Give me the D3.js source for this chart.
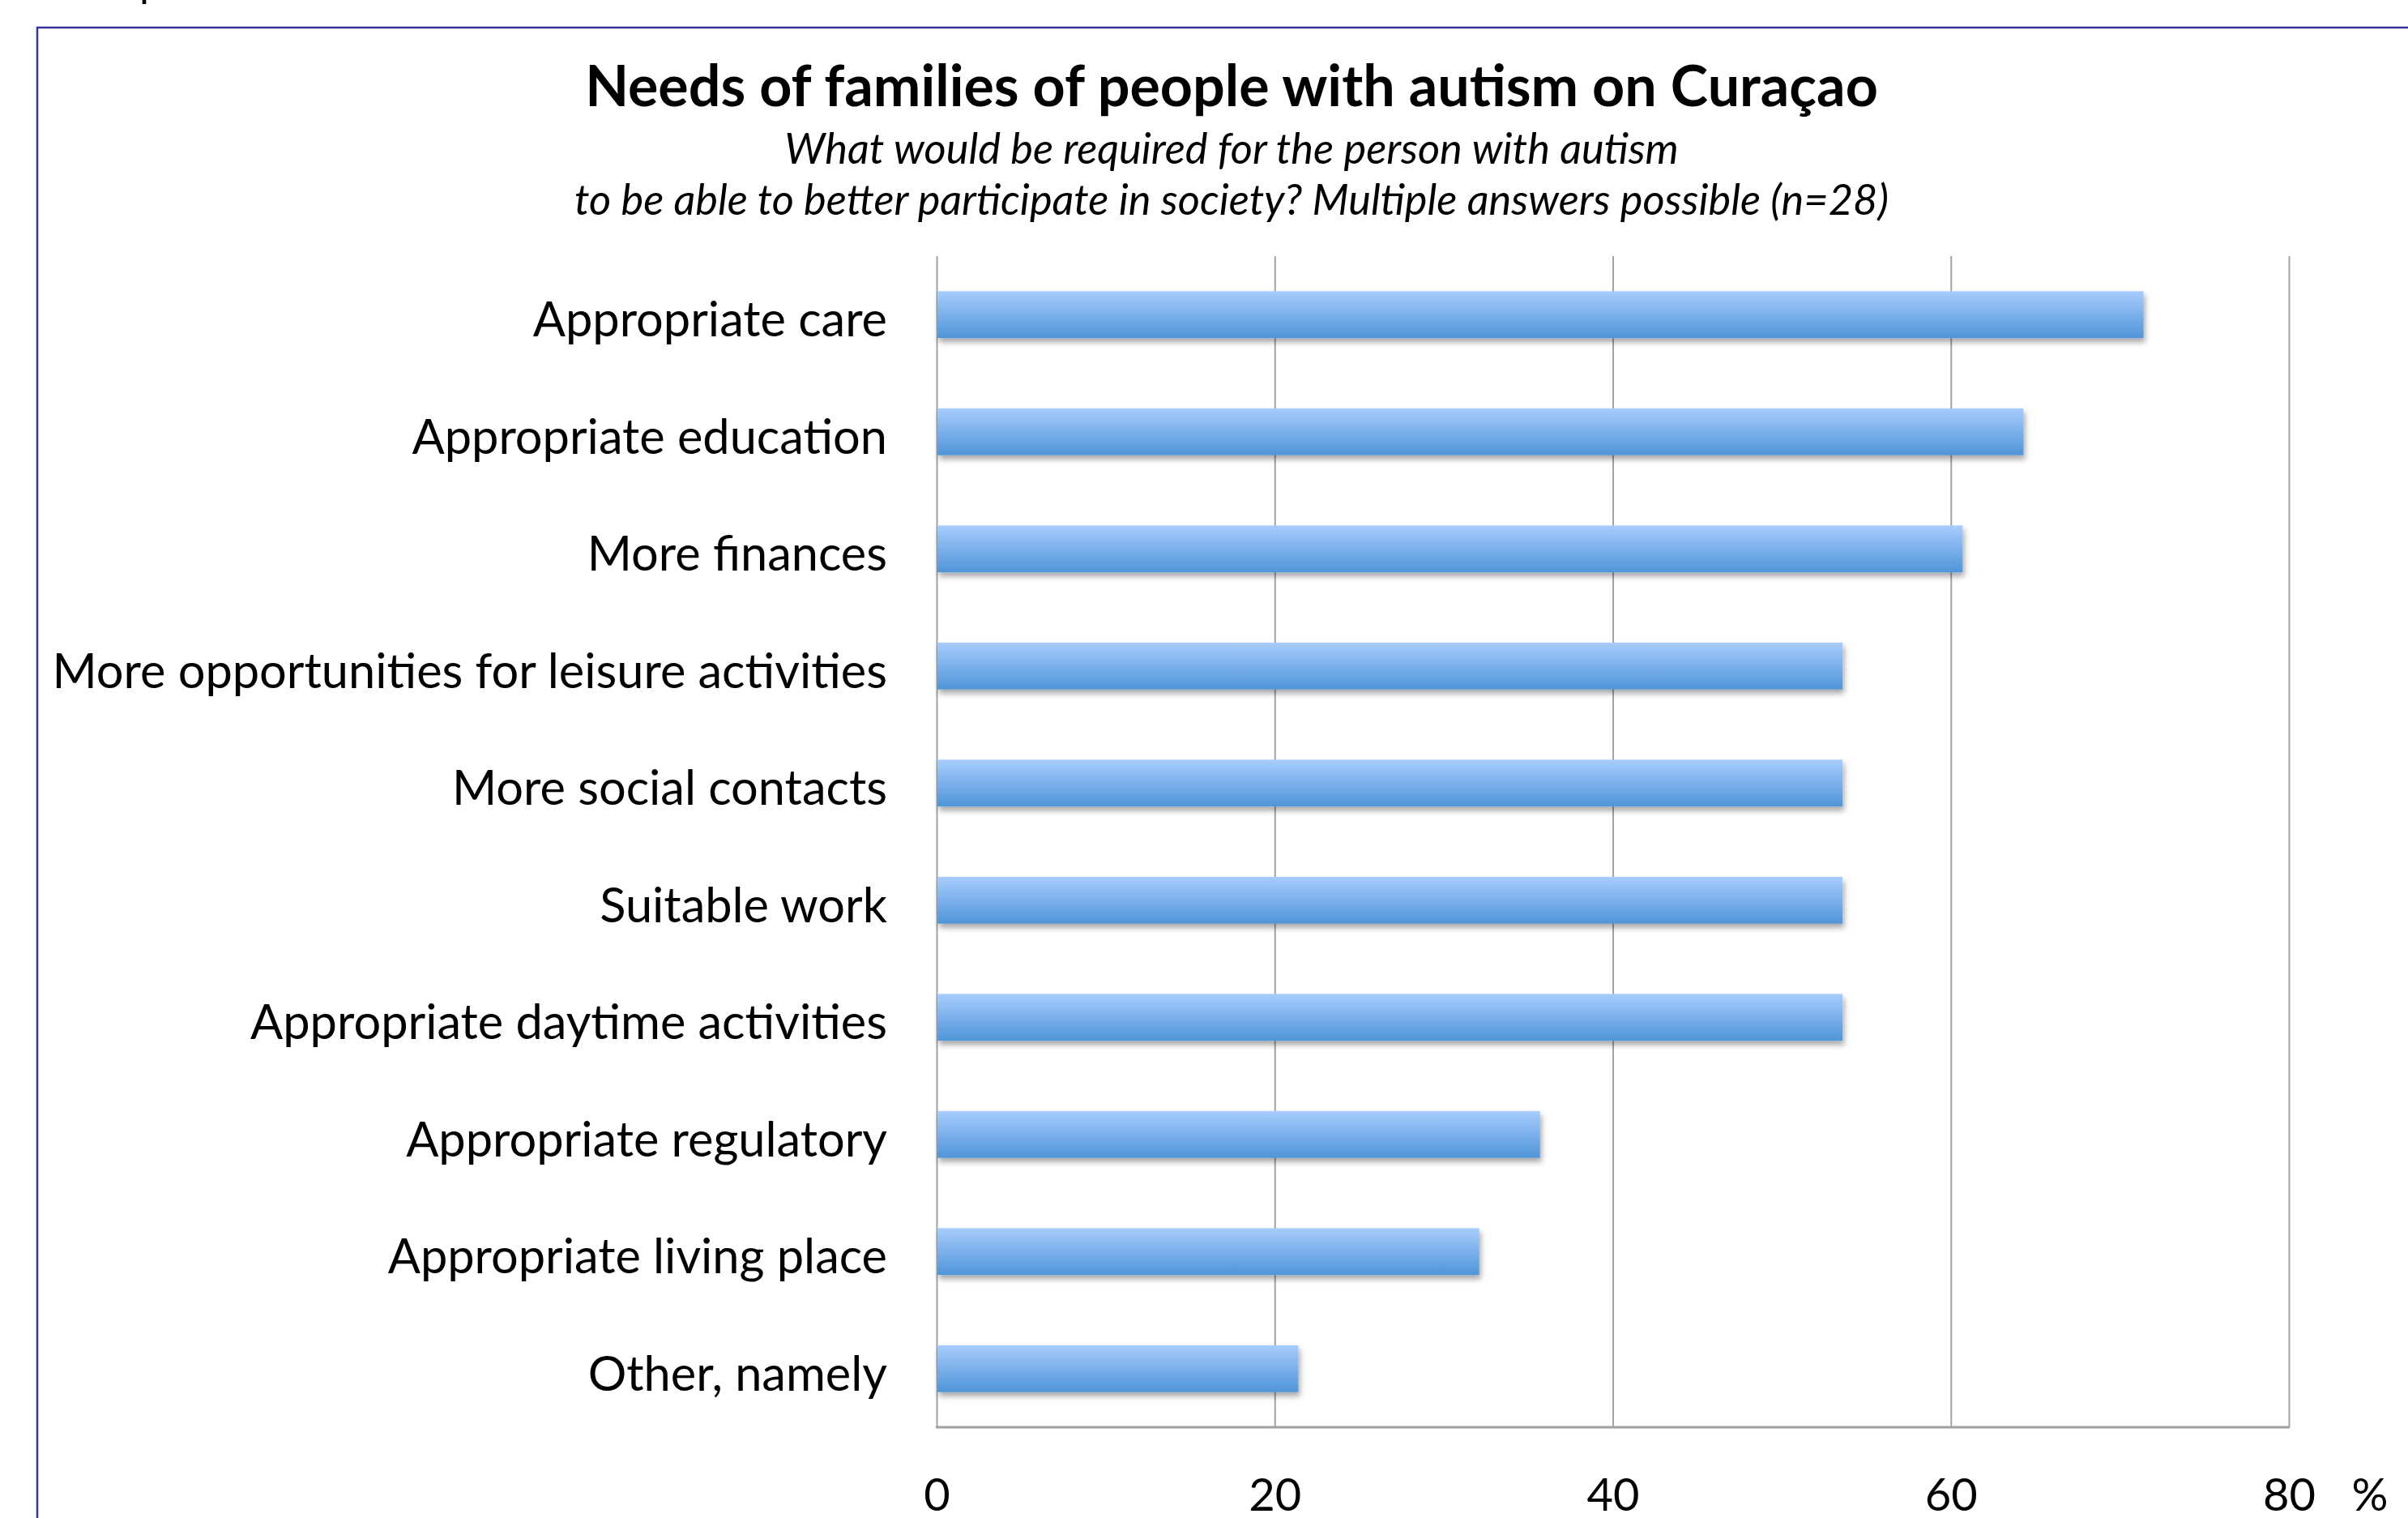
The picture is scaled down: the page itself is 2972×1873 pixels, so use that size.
<!DOCTYPE html>
<html>
<head>
<meta charset="utf-8">
<script src="https://cdn.jsdelivr.net/npm/d3@7"></script>
<style>
  body { margin: 0; background: #fff; }
  svg { display: block; font-family: Lato, "Open Sans", sans-serif; }
</style>
</head>
<body>
<svg id="chart"></svg>
<script>
// categories, top to bottom
var categories = [
  "Appropriate care",
  "Appropriate education",
  "More finances",
  "More opportunities for leisure activities",
  "More social contacts",
  "Suitable work",
  "Appropriate daytime activities",
  "Appropriate regulatory",
  "Appropriate living place",
  "Other, namely"
];
// percent of respondents (n=28)
var percents = [71.4, 64.3, 60.7, 53.6, 53.6, 53.6, 53.6, 35.7, 32.1, 21.4];
var xTicks = [0, 20, 40, 60, 80];

var titleText = "Needs of families of people with autism on Curaçao";
var subtitleLines = [
  "What would be required for the person with autism",
  "to be able to better participate in society? Multiple answers possible (n=28)"
];

var data = categories.map(function(c, i) { return {name: c, value: percents[i]}; });

var W = 2972, H = 1873;
var plot = {left: 1156, right: 2825, top: 316, bottom: 1761};

var svg = d3.select("svg#chart")
    .attr("width", W)
    .attr("height", H);

var defs = svg.append("defs");
var grad = defs.append("linearGradient")
    .attr("id", "barGrad")
    .attr("x1", 0).attr("y1", 0).attr("x2", 0).attr("y2", 1);
grad.append("stop").attr("offset", "0%").attr("stop-color", "#a8ccfd");
grad.append("stop").attr("offset", "100%").attr("stop-color", "#4f95d9");

var shadow = defs.append("filter")
    .attr("id", "barShadow")
    .attr("x", "-5%").attr("y", "-30%")
    .attr("width", "110%").attr("height", "170%");
shadow.append("feDropShadow")
    .attr("dx", 2).attr("dy", 5)
    .attr("stdDeviation", 3.5)
    .attr("flood-color", "#000")
    .attr("flood-opacity", 0.35);

// outer frame (runs off the right and bottom edges)
svg.append("rect")
    .attr("x", 46).attr("y", 34)
    .attr("width", 3100).attr("height", 2100)
    .attr("fill", "none")
    .attr("stroke", "#35359a")
    .attr("stroke-width", 2.5);

// cut off text fragment above the frame
svg.append("text")
    .attr("x", 172).attr("y", -4)
    .style("font-size", "52px")
    .text("p");

// scales
var x = d3.scaleLinear()
    .domain([0, 80])
    .range([plot.left, plot.right]);

var y = d3.scaleBand()
    .domain(categories)
    .range([plot.top, plot.bottom])
    .paddingInner(0.6)
    .paddingOuter(0.3);

// gridlines + tick labels
var xAxis = svg.append("g")
    .attr("transform", "translate(0," + plot.bottom + ")")
    .call(d3.axisBottom(x)
        .tickValues(xTicks)
        .tickSize(-(plot.bottom - plot.top))
        .tickPadding(63)
        .tickFormat(d3.format("d")));

xAxis.select(".domain").remove();
xAxis.selectAll(".tick line")
    .attr("stroke", "#a3a3a3")
    .attr("stroke-width", 2);
xAxis.selectAll(".tick text")
    .attr("fill", "#000")
    .style("font-size", "56px")
    .style("font-family", "Lato, sans-serif");

// bottom axis line
svg.append("line")
    .attr("x1", x(0) - 1).attr("x2", x(80) + 1)
    .attr("y1", plot.bottom).attr("y2", plot.bottom)
    .attr("stroke", "#a0a0a0")
    .attr("stroke-width", 3);

svg.append("text")
    .attr("x", 2925)
    .attr("y", plot.bottom + 103)
    .attr("text-anchor", "middle")
    .style("font-size", "56px")
    .text("%");

// bars
svg.selectAll("rect.bar")
    .data(data)
    .enter()
    .append("rect")
    .attr("class", "bar")
    .attr("x", x(0) + 1)
    .attr("y", function(d) { return y(d.name); })
    .attr("width", function(d) { return x(d.value) - x(0) - 1; })
    .attr("height", y.bandwidth())
    .attr("fill", "url(#barGrad)")
    .attr("filter", "url(#barShadow)");

// category labels
svg.selectAll("text.cat")
    .data(data)
    .enter()
    .append("text")
    .attr("class", "cat")
    .attr("x", 1095)
    .attr("y", function(d) { return y(d.name) + y.bandwidth() / 2 + 27; })
    .attr("text-anchor", "end")
    .style("font-size", "59.5px")
    .text(function(d) { return d.name; });

// title
svg.append("text")
    .attr("x", 1520)
    .attr("y", 131)
    .attr("text-anchor", "middle")
    .style("font-size", "70px")
    .style("font-weight", "bold")
    .text(titleText);

svg.selectAll("text.sub")
    .data(subtitleLines)
    .enter()
    .append("text")
    .attr("class", "sub")
    .attr("x", 1520)
    .attr("y", function(d, i) { return 202 + i * 63; })
    .attr("text-anchor", "middle")
    .style("font-size", "52.4px")
    .style("font-style", "italic")
    .text(function(d) { return d; });
</script>
</body>
</html>
